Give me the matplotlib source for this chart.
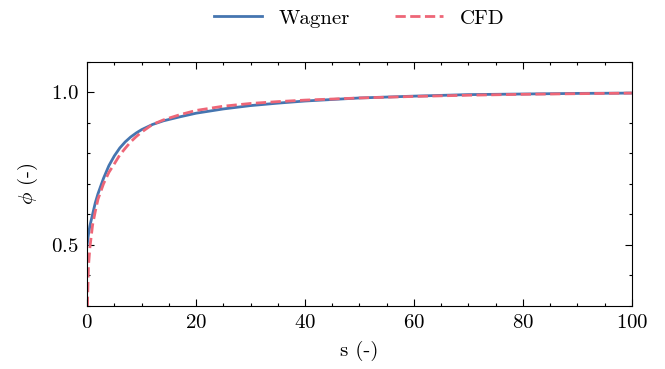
import numpy as np
import matplotlib
matplotlib.use("Agg")
import matplotlib.pyplot as plt
from matplotlib.ticker import MultipleLocator

plt.rcParams['font.family'] = ['cmr10', 'DejaVu Serif']
plt.rcParams['mathtext.fontset'] = 'cm'
plt.rcParams['axes.formatter.use_mathtext'] = True
plt.rcParams['font.size'] = 15

# Wagner function
s_wagner = [0, 0.25, 0.5, 1, 1.5, 2, 3, 4, 5, 6, 7, 8, 9, 10, 12, 14, 17, 20,
            25, 30, 35, 40, 50, 60, 70, 80, 90, 100]
phi_wagner = [0.500, 0.535, 0.562, 0.600, 0.638, 0.668, 0.718, 0.760, 0.792,
              0.818, 0.838, 0.854, 0.867, 0.878, 0.895, 0.907, 0.920, 0.932,
              0.946, 0.957, 0.965, 0.972, 0.982, 0.988, 0.993, 0.995, 0.997, 0.998]

# CFD result
s_cfd = [0, 0.1, 0.25, 0.5, 1, 1.5, 2, 3, 4, 5, 6, 7, 8, 9, 10, 12, 14, 17, 20,
         25, 30, 35, 40, 50, 60, 70, 80, 90, 100]
phi_cfd = [0.20, 0.33, 0.43, 0.49, 0.565, 0.61, 0.65, 0.70, 0.738, 0.766,
           0.795, 0.817, 0.838, 0.855, 0.870, 0.895, 0.910, 0.927, 0.941,
           0.955, 0.964, 0.970, 0.975, 0.982, 0.987, 0.991, 0.994, 0.996, 0.998]

fig = plt.figure(figsize=(6.65, 3.69), dpi=100)
ax = fig.add_axes([0.131, 0.171, 0.819, 0.661])

ax.plot(s_wagner, phi_wagner, color='#4575B0', lw=2, label='Wagner')
ax.plot(s_cfd, phi_cfd, color='#EE6677', lw=2, ls='--', label='CFD')

ax.set_xlim(0, 100)
ax.set_ylim(0.3, 1.1)
ax.xaxis.set_major_locator(MultipleLocator(20))
ax.xaxis.set_minor_locator(MultipleLocator(5))
ax.yaxis.set_major_locator(MultipleLocator(0.5))
ax.yaxis.set_minor_locator(MultipleLocator(0.1))
ax.tick_params(which='both', direction='in', top=True, right=True)
ax.tick_params(which='major', length=5, width=0.8, pad=6)
ax.tick_params(which='minor', length=2.5, width=0.8)

ax.set_xlabel('s (-)', labelpad=6)
ax.set_ylabel(r'$\phi$ (-)', labelpad=8)

fig.legend(loc='center', bbox_to_anchor=(0.54, 0.95), ncol=2, frameon=False,
           handlelength=2.3, columnspacing=2.2)

fig.savefig('out.png', dpi=100)
